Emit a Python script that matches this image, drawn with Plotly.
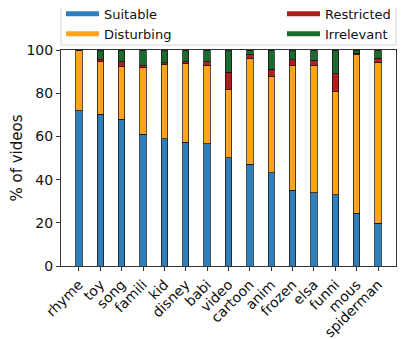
import plotly.graph_objects as go

keywords = ['rhyme', 'toy', 'song', 'famili', 'kid', 'disney', 'babi', 'video',
            'cartoon', 'anim', 'frozen', 'elsa', 'funni', 'mous', 'spiderman']

suitable = [71.8, 70.2, 67.9, 61.1, 59.0, 57.4, 56.5, 50.2, 47.2, 43.1, 35.0, 34.0, 32.9, 24.5, 19.9]
disturbing = [28.2, 24.4, 24.4, 30.9, 34.2, 36.4, 36.4, 31.4, 48.8, 44.6, 57.9, 58.7, 47.8, 73.2, 74.4]
restricted = [0.0, 1.0, 2.3, 0.7, 0.9, 0.8, 1.7, 8.1, 1.8, 3.3, 2.5, 2.4, 8.2, 0.8, 1.8]
irrelevant = [0.0, 4.4, 5.4, 7.3, 5.9, 5.4, 5.4, 10.3, 2.2, 9.0, 4.6, 4.9, 11.1, 1.5, 3.9]

colors = {
    'Suitable': '#2f7fbc',
    'Disturbing': '#ffa41c',
    'Restricted': '#b01e1e',
    'Irrelevant': '#1b6a2f',
}

fig = go.Figure()

# stacked bars (legend drawn with dummy line traces below)
for name, vals in [('Suitable', suitable), ('Disturbing', disturbing),
                   ('Restricted', restricted), ('Irrelevant', irrelevant)]:
    fig.add_trace(go.Bar(
        x=keywords, y=vals, name=name, width=0.3,
        marker=dict(color=colors[name], line=dict(color='rgba(20,20,20,0.75)', width=1)),
        showlegend=False,
    ))

for name, lg in [('Suitable', 'legend'), ('Disturbing', 'legend'),
                 ('Restricted', 'legend2'), ('Irrelevant', 'legend2')]:
    fig.add_trace(go.Scatter(
        x=[None], y=[None], mode='lines', name=name, legend=lg,
        line=dict(color=colors[name], width=5),
    ))

legend_style = dict(
    orientation='v', yanchor='top', y=1.237, bgcolor='rgba(0,0,0,0)',
    font=dict(size=13, color='#111111'), itemwidth=33, tracegroupgap=0,
    traceorder='normal',
)

# page body has an 8px margin, so the figure is a bit smaller than the window
fig.update_layout(
    barmode='stack',
    width=399, height=331,
    margin=dict(l=53, r=11, t=42, b=73, autoexpand=False),
    paper_bgcolor='white', plot_bgcolor='white',
    font=dict(family='DejaVu Sans', color='#111111'),
    legend=dict(legend_style, x=0.0, xanchor='left'),
    legend2=dict(legend_style, x=1.0, xanchor='right'),
    shapes=[dict(type='rect', xref='paper', yref='paper', x0=0, x1=1, y0=1.023, y1=1.213,
                 line=dict(color='#d6d6d6', width=1), fillcolor='rgba(0,0,0,0)', layer='above')],
    xaxis=dict(
        range=[-0.84, 14.84], tickangle=-45, tickfont=dict(size=14),
        showline=True, mirror=True, linecolor='#333333', linewidth=1,
        ticks='outside', ticklen=4, tickcolor='#333333',
    ),
    yaxis=dict(
        range=[0, 100], tickvals=[0, 20, 40, 60, 80, 100], tickfont=dict(size=14),
        title=dict(text='% of videos', font=dict(size=15), standoff=6),
        showline=True, mirror=True, linecolor='#333333', linewidth=1,
        ticks='outside', ticklen=4, tickcolor='#333333', showgrid=False, zeroline=False,
    ),
)

fig.write_html("out.html")
